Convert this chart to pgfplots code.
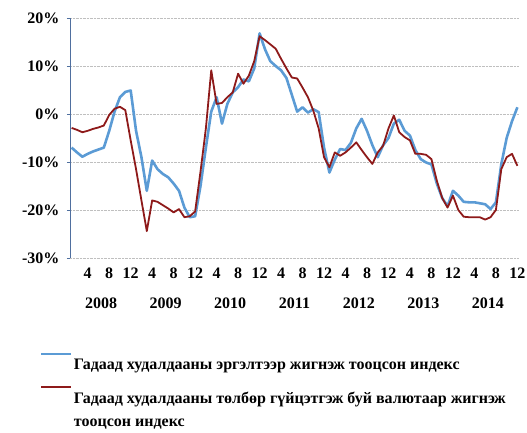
\documentclass[border=0pt]{standalone}
\usepackage{fontspec}
\setmainfont{Liberation Serif}
\usepackage{pgfplots}
\pgfplotsset{compat=1.18}
\definecolor{bluel}{HTML}{5B9BD5}
\definecolor{redl}{HTML}{8E1A1A}
\definecolor{axblue}{HTML}{4F6F9F}
\begin{document}
\begin{tikzpicture}
\useasboundingbox (-70pt,-174pt) rectangle (457pt,258pt);
\begin{axis}[
    at={(0,0)}, anchor=south west,
    scale only axis,
    width=449pt, height=240pt,
    xmin=0.7, xmax=84.3,
    ymin=-30, ymax=20,
    axis lines*=left,
    axis line style={-},
    x axis line style={draw=none},
    y axis line style={draw=axblue, line width=0.8pt},
    ytick={-30,-20,...,20},
    yticklabels={-30\%,-20\%,-10\%,0\%,10\%,20\%},
    xtick={4,8,...,84},
    xticklabels={4,8,12,4,8,12,4,8,12,4,8,12,4,8,12,4,8,12,4,8,12},
    extra x ticks={6.5,18.5,30.5,42.5,54.5,66.5,78.5},
    extra x tick labels={2008,2009,2010,2011,2012,2013,2014},
    extra x tick style={grid=none, major tick length=0pt,
        tick label style={yshift=-33pt}},
    x tick style={draw=none},
    y tick style={draw=axblue},
    major tick length=3pt,
    tick align=outside,
    ymajorgrids,
    grid style={densely dotted, gray!50},
    tick label style={font=\bfseries\fontsize{16}{18}\selectfont},
    yticklabel style={xshift=-4pt},
    xticklabel style={yshift=-3pt},
    legend style={at={(0,0)}, anchor=north west, xshift=-30pt, yshift=-95pt,
        draw=none, fill=none, inner sep=0pt,
        font=\bfseries\fontsize{16}{23}\selectfont,
        cells={anchor=north west}, row sep=13pt},
    legend image code/.code={\draw[#1, line width=1.8pt] (0pt,0.6ex) -- (30pt,0.6ex);},
]
\addplot[bluel, line width=2.6pt, line join=round] coordinates {
(1,-7.0) (2,-8.0) (3,-8.9) (4,-8.3) (5,-7.8) (6,-7.4) (7,-7.0) (8,-3.5)
(9,0.5) (10,3.5) (11,4.6) (12,4.9) (13,-3.5) (14,-9.0) (15,-16.0) (16,-9.7)
(17,-11.5) (18,-12.5) (19,-13.2) (20,-14.5) (21,-16.0) (22,-19.5) (23,-21.5) (24,-21.3)
(25,-15.0) (26,-7.0) (27,0.5) (28,3.5) (29,-2.0) (30,2.1) (31,4.5) (32,5.6)
(33,7.2) (34,6.8) (35,9.5) (36,16.8) (37,13.5) (38,11.0) (39,10.0) (40,9.1)
(41,7.5) (42,4.0) (43,0.5) (44,1.4) (45,0.3) (46,1.0) (47,0.4) (48,-7.0)
(49,-12.2) (50,-9.5) (51,-7.3) (52,-7.5) (53,-6.0) (54,-3.0) (55,-1.0) (56,-3.5)
(57,-6.5) (58,-9.0) (59,-6.5) (60,-5.0) (61,-2.0) (62,-1.2) (63,-3.5) (64,-4.5)
(65,-7.5) (66,-9.4) (67,-10.1) (68,-10.5) (69,-14.5) (70,-17.5) (71,-19.2) (72,-16.0)
(73,-17.0) (74,-18.3) (75,-18.4) (76,-18.4) (77,-18.6) (78,-18.8) (79,-19.8) (80,-18.4)
(81,-10.5) (82,-5.0) (83,-1.5) (84,1.4)
};
\addlegendentry{Гадаад худалдааны эргэлтээр жигнэж тооцсон индекс}
\addplot[redl, line width=1.8pt, line join=round] coordinates {
(1,-2.9) (2,-3.3) (3,-3.8) (4,-3.5) (5,-3.1) (6,-2.8) (7,-2.4) (8,-0.2)
(9,1.1) (10,1.5) (11,0.8) (12,-5.5) (13,-11.5) (14,-18.0) (15,-24.4) (16,-18.0)
(17,-18.3) (18,-19.0) (19,-19.7) (20,-20.5) (21,-19.8) (22,-21.5) (23,-21.3) (24,-20.3)
(25,-12.0) (26,-3.0) (27,9.1) (28,2.1) (29,2.3) (30,3.5) (31,4.5) (32,8.4)
(33,6.3) (34,8.0) (35,11.0) (36,16.2) (37,15.4) (38,14.5) (39,13.6) (40,11.5)
(41,9.5) (42,7.6) (43,7.4) (44,5.5) (45,3.5) (46,0.7) (47,-3.0) (48,-9.0)
(49,-11.1) (50,-8.0) (51,-8.7) (52,-8.0) (53,-7.0) (54,-5.9) (55,-7.5) (56,-9.0)
(57,-10.4) (58,-8.0) (59,-6.6) (60,-3.0) (61,-0.3) (62,-3.8) (63,-4.8) (64,-5.5)
(65,-8.3) (66,-8.3) (67,-8.5) (68,-9.4) (69,-13.9) (70,-17.5) (71,-19.5) (72,-17.0)
(73,-20.0) (74,-21.4) (75,-21.5) (76,-21.5) (77,-21.5) (78,-22.0) (79,-21.5) (80,-20.0)
(81,-11.5) (82,-9.0) (83,-8.3) (84,-10.8)
};
\addlegendentry{\parbox[t]{445pt}{\raggedright Гадаад худалдааны төлбөр гүйцэтгэж буй валютаар жигнэж тооцсон индекс}}
\end{axis}
\end{tikzpicture}
\end{document}
